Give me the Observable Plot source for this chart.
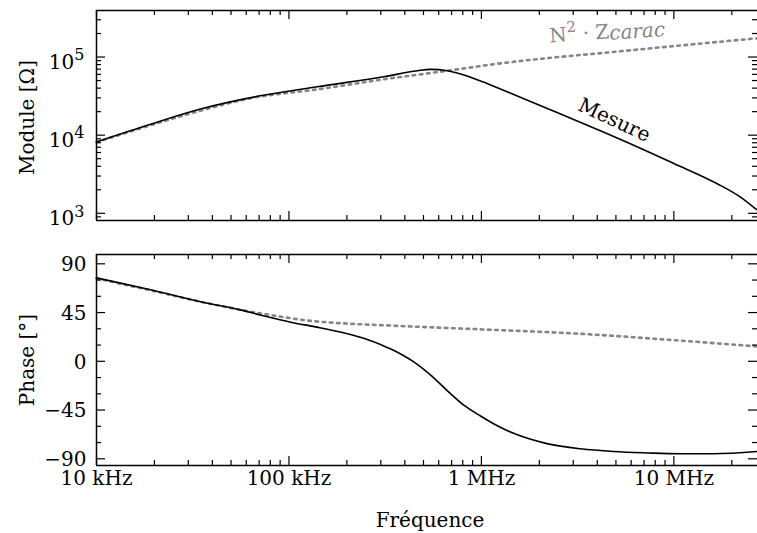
<!DOCTYPE html>
<html><head><meta charset="utf-8">
<script src="https://cdn.jsdelivr.net/npm/d3@7"></script>
<script src="https://cdn.jsdelivr.net/npm/@observablehq/plot@0.6"></script>
<style>
body{margin:0;background:#fff;}
#chart{width:757px;height:533px;}
#chart svg{display:block;}
</style></head><body><div id="chart"></div>
<script>
// ---- data ----
const freqModMesure = [1e4, 19.1e3, 34.7e3, 71e3, 140e3, 310e3, 465e3, 543e3, 665e3, 826e3, 1.024e6, 1.255e6, 2.28e6, 4.15e6, 6.7e6, 10e6, 16.8e6, 22.1e6, 26.8e6];
const moduleMesure  = [8200, 13800, 21600, 31900, 41600, 55800, 66700, 69500, 66700, 58000, 47800, 38900, 21200, 11400, 6810, 4340, 2390, 1620, 1120];
const freqModN2 = [1e4, 19.1e3, 34.7e3, 63e3, 140e3, 310e3, 665e3, 1.26e6, 2.28e6, 4.15e6, 10e6, 27.2e6];
const moduleN2  = [8130, 13400, 20600, 29600, 38500, 51800, 66700, 83000, 97700, 112000, 138000, 174000];
const freqPhaseMesure = [1e4, 19.1e3, 34.7e3, 56e3, 71e3, 102e3, 137e3, 185e3, 216e3, 255e3, 299e3, 336e3, 389e3, 445e3, 543e3, 664e3, 810e3, 989e3, 1.21e6, 1.47e6, 2.19e6, 3.27e6, 4.86e6, 7.26e6, 10.8e6, 16.1e6, 27.2e6];
const phaseMesure = [77, 66, 55, 47.5, 42.8, 36.1, 31.8, 27, 24, 20.2, 15.6, 11.5, 5.8, -0.5, -12.5, -27, -40.5, -50.5, -59.5, -66.5, -76, -80.8, -83.3, -84.6, -85.4, -85.4, -83.3];
const freqPhaseN2 = [1e4, 19.1e3, 34.7e3, 56e3, 71e3, 83e3, 124e3, 185e3, 336e3, 612e3, 989e3, 3.27e6, 10e6, 27.2e6];
const phaseN2 = [76.5, 65.5, 55, 47.5, 44.3, 42.3, 37.7, 35.2, 33, 31, 29.5, 25.4, 19.5, 13.7];

const xMajorTicks = [1e4, 1e5, 1e6, 1e7];
const xTickLabels = ["10 kHz", "100 kHz", "1 MHz", "10 MHz"];
const modMajorTicks = [1e3, 1e4, 1e5];
const modTickExponents = ["3", "4", "5"];
const phaseMajorTicks = [-90, -45, 0, 45, 90];
const phaseTickLabels = ["\u221290", "\u221245", "0", "45", "90"];
const phaseMinorTicks = [-75, -60, -30, -15, 15, 30, 60, 75];
const minorMultipliers = [2, 3, 4, 5, 6, 7, 8, 9];

const xDomain = [1e4, 2.72e7];
const modDomain = [809, 3.94e5];
const phaseDomain = [-96.2, 98.6];

// ---- layout ----
const W = 757, ML = 96, MR = 0;
const FONT = "DejaVu Serif";
const FS = 20;
const GRAY = "#858585";
const FW = W - ML - MR;

function minorLog(lo, hi) {
  const out = [];
  for (let e = Math.floor(Math.log10(lo)); e <= Math.ceil(Math.log10(hi)); e++)
    for (const m of minorMultipliers) { const v = m * Math.pow(10, e); if (v >= lo && v <= hi) out.push(v); }
  return out;
}
const xMinorTicks = minorLog(xDomain[0], xDomain[1]);
const modMinorTicks = minorLog(modDomain[0], modDomain[1]);

function frameMarks(yDom, fh, yMaj, yMin) {
  const s = {stroke: "black", strokeWidth: 1.2};
  return [
    Plot.ruleX([xDomain[0]], {stroke: "black", strokeWidth: 1.5}),
    Plot.ruleY([yDom[0], yDom[1]], {stroke: "black", strokeWidth: 1.5}),
    Plot.tickX(xMajorTicks, {x: d => d, insetTop: fh - 9, ...s}),
    Plot.tickX(xMajorTicks, {x: d => d, insetBottom: fh - 9, ...s}),
    Plot.tickX(xMinorTicks, {x: d => d, insetTop: fh - 5, ...s}),
    Plot.tickX(xMinorTicks, {x: d => d, insetBottom: fh - 5, ...s}),
    Plot.tickY(yMaj, {y: d => d, insetRight: FW - 9, ...s}),
    Plot.tickY(yMaj, {y: d => d, insetLeft: FW - 9, ...s}),
    Plot.tickY(yMin, {y: d => d, insetRight: FW - 5, ...s}),
    Plot.tickY(yMin, {y: d => d, insetLeft: FW - 5, ...s})
  ];
}

const modMesure = freqModMesure.map((f, i) => ({f, v: moduleMesure[i]}));
const modN2 = freqModN2.map((f, i) => ({f, v: moduleN2[i]}));
const phMesure = freqPhaseMesure.map((f, i) => ({f, v: phaseMesure[i]}));
const phN2 = freqPhaseN2.map((f, i) => ({f, v: phaseN2[i]}));

const topMT = 10, topMB = 20, topH = 240;
const plotModule = Plot.plot({
  width: W, height: topH, marginLeft: ML, marginRight: MR, marginTop: topMT, marginBottom: topMB,
  x: {type: "log", domain: xDomain, axis: null},
  y: {type: "log", domain: modDomain, axis: null},
  style: {fontFamily: FONT, fontSize: FS + "px", background: "white", color: "black"},
  marks: [
    Plot.line(modN2, {x: "f", y: "v", stroke: GRAY, strokeWidth: 2.6, strokeDasharray: "2.6,4.6", curve: "monotone-x"}),
    Plot.line(modMesure, {x: "f", y: "v", stroke: "black", strokeWidth: 1.6, curve: "monotone-x"}),
    ...frameMarks(modDomain, topH - topMT - topMB, modMajorTicks, modMinorTicks),
    Plot.text(modMajorTicks, {y: d => d, text: (d, i) => "10^" + modTickExponents[i], frameAnchor: "left", textAnchor: "end", dx: -12, dy: 5.5, fontSize: FS, fill: "black"}),
    Plot.text(["Module [\u03A9]"], {text: d => d, frameAnchor: "left", textAnchor: "middle", rotate: -90, dx: -69, dy: 2, fontSize: FS, fill: "black"}),
    Plot.text(["Mesure"], {x: () => 4.9e6, y: () => 15600, text: d => d, rotate: 25, fontSize: FS, fill: "black"}),
    Plot.text(["N2Zcarac"], {x: () => 4.5e6, y: () => 209000, text: d => d, rotate: -4, fontSize: FS, fill: GRAY})
  ]
});

const botMT = 14, botMB = 68, botH = 293;
const plotPhase = Plot.plot({
  width: W, height: botH, marginLeft: ML, marginRight: MR, marginTop: botMT, marginBottom: botMB,
  x: {type: "log", domain: xDomain, axis: null},
  y: {type: "linear", domain: phaseDomain, axis: null},
  style: {fontFamily: FONT, fontSize: FS + "px", background: "white", color: "black"},
  marks: [
    Plot.line(phN2, {x: "f", y: "v", stroke: GRAY, strokeWidth: 2.6, strokeDasharray: "2.6,4.6", curve: "monotone-x"}),
    Plot.line(phMesure, {x: "f", y: "v", stroke: "black", strokeWidth: 1.6, curve: "monotone-x"}),
    ...frameMarks(phaseDomain, botH - botMT - botMB, phaseMajorTicks, phaseMinorTicks),
    Plot.text(phaseMajorTicks, {y: d => d, text: (d, i) => phaseTickLabels[i], frameAnchor: "left", textAnchor: "end", dx: -10, dy: 0.8, fontSize: FS, fill: "black"}),
    Plot.text(xMajorTicks, {x: d => d, text: (d, i) => xTickLabels[i], frameAnchor: "bottom", lineAnchor: "top", dy: 5.5, fontSize: FS, fill: "black"}),
    Plot.text(["Phase [\u00B0]"], {text: d => d, frameAnchor: "left", textAnchor: "middle", rotate: -90, dx: -69, fontSize: FS, fill: "black"}),
    Plot.text(["Fr\u00E9quence"], {text: d => d, frameAnchor: "bottom", lineAnchor: "top", dx: 3, dy: 47, fontSize: FS, fill: "black"})
  ]
});

const chart = document.getElementById("chart");
chart.appendChild(plotModule);
chart.appendChild(plotPhase);

// typeset superscripts / subscripts in the texts
d3.select(plotModule).selectAll("text").each(function() {
  const t = d3.select(this);
  const s = t.text();
  if (/^10\^\d$/.test(s)) {
    const [base, exp] = s.split("^");
    t.text(base);
    t.append("tspan").attr("font-size", "16px").attr("dy", "-8.6").text(exp);
  } else if (s === "N2Zcarac") {
    t.text("N");
    t.append("tspan").attr("font-size", "15px").attr("dy", "-9").text("2");
    t.append("tspan").attr("dy", "9").text(" \u00B7 Z");
    t.append("tspan").attr("font-style", "italic").attr("dy", "1.5").text("carac");
  }
});
</script></body></html>
